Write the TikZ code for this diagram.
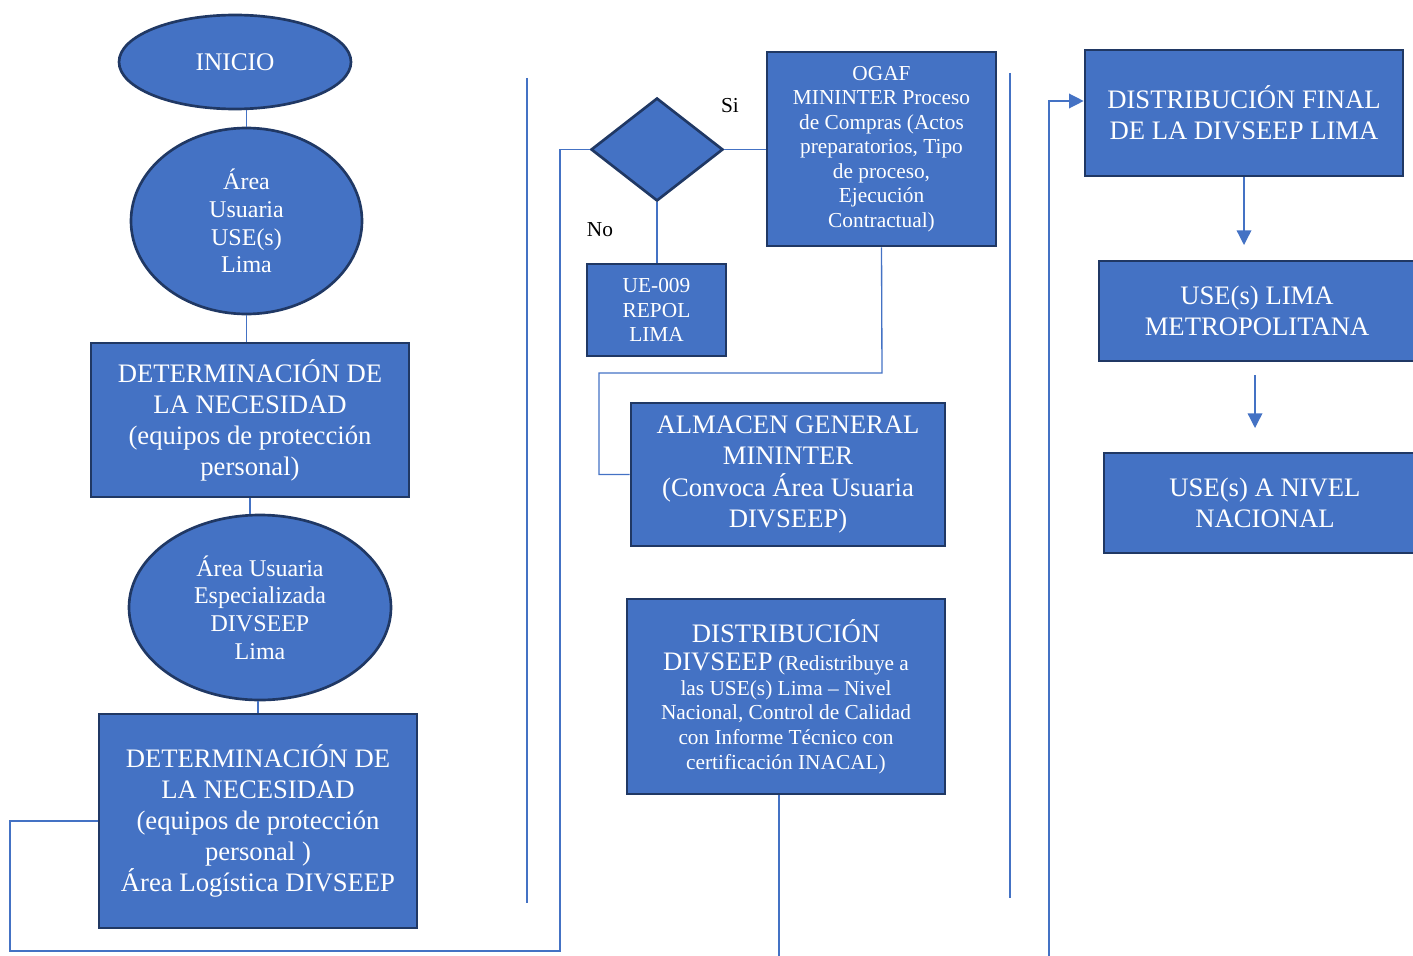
\documentclass[tikz,border=0pt]{standalone}
\usepackage{fontspec}
\setmainfont{Liberation Serif}
\usetikzlibrary{shapes.geometric,arrows.meta}
\definecolor{boxblue}{RGB}{68,114,196}
\definecolor{boxline}{RGB}{32,56,100}
\tikzset{
  flowbox/.style={draw=boxline, line width=2pt, fill=boxblue, text=white, align=center, inner sep=0pt, font=\fontsize{20}{23.3}\selectfont},
  smallbox/.style={flowbox, font=\fontsize{16}{18.4}\selectfont},
  flowoval/.style={ellipse, flowbox, font=\fontsize{18}{20.8}\selectfont},
  flowline/.style={draw=boxblue, line width=1pt},
  flowarrow/.style={flowline, -{Triangle[width=11pt,length=11pt]}},
  answer/.style={font=\fontsize{16}{18.4}\selectfont, inner sep=0pt}
}
\begin{document}
\begin{tikzpicture}[x=0.75pt,y=0.75pt,yscale=-1,xscale=1]
\useasboundingbox (0,0) rectangle (1413,956);

%Shape: Ellipse [id:inicio]
\node[flowoval, minimum width=174pt, minimum height=70.5pt, font=\fontsize{19}{22}\selectfont] (inicio) at (235,62) {INICIO};
%Shape: Ellipse [id:usuaria]
\node[flowoval, minimum width=173.25pt, minimum height=139.5pt] (usuaria) at (246.5,221) {Área\\Usuaria\\USE(s)\\Lima};
%Shape: Rectangle [id:det1]
\node[flowbox, minimum width=238.5pt, minimum height=115.5pt] (det1) at (250,420) {DETERMINACIÓN DE\\LA NECESIDAD\\(equipos de protección\\personal)};
%Shape: Ellipse [id:especial]
\node[flowoval, minimum width=196.5pt, minimum height=138.75pt] (especial) at (260,607.5) {Área Usuaria\\Especializada\\DIVSEEP\\Lima};
%Shape: Rectangle [id:det2]
\node[flowbox, minimum width=238.5pt, minimum height=160.5pt] (det2) at (258,821) {DETERMINACIÓN DE\\LA NECESIDAD\\(equipos de protección\\personal )\\Área Logística DIVSEEP};

%Shape: Diamond [id:dia]
\node[diamond, flowbox, minimum width=99pt, minimum height=77.25pt] (dia) at (657,149.5) {};
%Shape: Rectangle [id:ogaf]
\node[smallbox, minimum width=171.75pt, minimum height=145.5pt] (ogaf) at (881.5,149) {OGAF\\MININTER Proceso\\de Compras (Actos\\preparatorios, Tipo\\de proceso,\\Ejecución\\Contractual)};
%Shape: Rectangle [id:ue]
\node[smallbox, minimum width=104.25pt, minimum height=69pt] (ue) at (656.5,310) {UE-009\\REPOL\\LIMA};
%Shape: Rectangle [id:almacen]
\node[flowbox, minimum width=235.5pt, minimum height=107.25pt] (almacen) at (788,474.5) {ALMACEN GENERAL\\MININTER\\(Convoca Área Usuaria\\DIVSEEP)};
%Shape: Rectangle [id:distdiv]
\node[smallbox, minimum width=238.5pt, minimum height=146.25pt] (distdiv) at (786,696.5) {{\fontsize{20}{23.3}\selectfont DISTRIBUCIÓN}\\[3pt]{\fontsize{20}{23.3}\selectfont DIVSEEP} (Redistribuye a\\las USE(s) Lima -- Nivel\\Nacional, Control de Calidad\\con Informe Técnico con\\certificación INACAL)};

%Shape: Rectangle [id:final]
\node[flowbox, minimum width=238.5pt, minimum height=94.5pt] (final) at (1244,113) {DISTRIBUCIÓN FINAL\\DE LA DIVSEEP LIMA};
%Shape: Rectangle [id:lima]
\node[flowbox, minimum width=237pt, minimum height=75pt] (lima) at (1257,311) {USE(s) LIMA\\METROPOLITANA};
%Shape: Rectangle [id:nacional]
\node[flowbox, minimum width=241.5pt, minimum height=75pt] (nacional) at (1265,503) {USE(s) A NIVEL\\NACIONAL};

% Text Node
\node[answer] (si) at (730,106) {Si};
% Text Node
\node[answer] (no) at (600,230) {No};

%Straight Lines
\draw[flowline] (usuaria.north) -- (usuaria.north |- inicio.south);
\draw[flowline] (usuaria.south) -- (usuaria.south |- det1.north);
\draw[flowline] (det1.south) -- (det1.south |- especial.north);
\draw[flowline] (det2.north) -- (det2.north |- especial.south);

%Straight Lines
\coordinate (c1) at (10,951);
\coordinate (c2) at (560,951);
\draw[flowline] (det2.west) -- (det2.west -| c1) -- (c1) -- (c2) |- (dia.west);

%Straight Lines
\draw[flowline] (dia.east) -- (ogaf.west |- dia.east);
\draw[flowline] (dia.south) -- (dia.south |- ue.north);
\coordinate (c3) at (882,373);
\coordinate (c4) at (599,373);
\draw[flowline] (ogaf.south) -- (c3) -- (c4) |- (almacen.west);

%Straight Lines
\coordinate (c5) at (779,956);
\draw[flowline] (c5 |- distdiv.south) -- (c5);

%Straight Lines
\coordinate (s1) at (527,78);
\coordinate (s2) at (527,903);
\coordinate (s3) at (1010,73);
\coordinate (s4) at (1010,898);
\draw[flowline] (s1) -- (s2);
\draw[flowline] (s3) -- (s4);

%Arrows
\coordinate (c6) at (1049,956);
\coordinate (c7) at (1049,101);
\draw[flowarrow] (c6) -- (c7) -- (c7 -| final.west);
\coordinate (a1) at (1247,245);
\draw[flowarrow] (final.south) -- (final.south |- a1);
\coordinate (a2) at (1255,375);
\coordinate (a3) at (1255,428);
\draw[flowarrow] (a2) -- (a3);

\end{tikzpicture}
\end{document}
